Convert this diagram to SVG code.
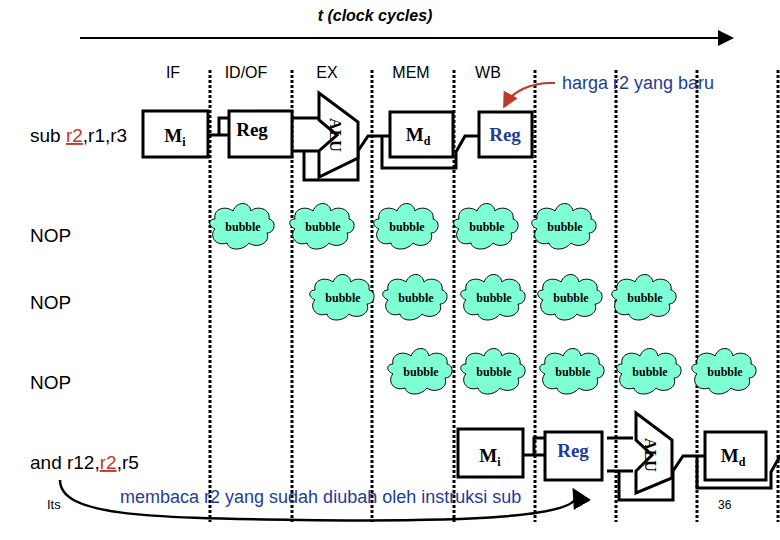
<svg xmlns="http://www.w3.org/2000/svg" width="780" height="540" viewBox="0 0 780 540">
<style>
.s{font-family:"Liberation Sans",Arial,sans-serif}
.b{font-family:"Liberation Serif","Times New Roman",serif;font-weight:bold}
.box{fill:#fff;stroke:#000;stroke-width:3}
.w{fill:none;stroke:#000;stroke-width:3}
.dash{stroke:#000;stroke-width:3;stroke-dasharray:3 2}
.blue{fill:#1f3c99}
.bt{font-family:"Liberation Serif",serif;font-weight:bold;font-size:12px}
</style>
<defs>
<marker id="ah" markerWidth="8" markerHeight="8" refX="6" refY="4" orient="auto"><path d="M0,0L8,4L0,8z" fill="#000"/></marker>
<marker id="rh" markerWidth="8" markerHeight="8" refX="6" refY="4" orient="auto"><path d="M0,0L8,4L0,8z" fill="#c0392b"/></marker>
<path id="cl" d="M-28,-8 C-30,-18 -18,-22 -10,-16 C-6,-26 6,-26 8,-16 C14,-22 28,-18 26,-8 C34,-6 32,6 24,6 C28,16 14,22 6,16 C0,24 -14,24 -16,16 C-28,20 -34,8 -28,2 C-36,-2 -34,-8 -28,-8 Z" fill="#7fffd4" stroke="#000" stroke-width="1"/>
</defs>
<text x="375" y="21" text-anchor="middle" class="s" font-size="16" font-style="italic" font-weight="bold">t (clock cycles)</text>
<line x1="80" y1="38" x2="730" y2="38" stroke="#000" stroke-width="2" marker-end="url(#ah)"/>
<g id="stages" class="s" font-size="16" text-anchor="middle">
<text x="173" y="78">IF</text><text x="246" y="78">ID/OF</text><text x="327" y="78">EX</text><text x="411" y="78">MEM</text><text x="488" y="78">WB</text>
</g>
<g id="gridlines">
<line class="dash" x1="210" y1="70" x2="210" y2="522"/>
<line class="dash" x1="292" y1="70" x2="292" y2="522"/>
<line class="dash" x1="372" y1="70" x2="372" y2="522"/>
<line class="dash" x1="454" y1="70" x2="454" y2="522"/>
<line class="dash" x1="535" y1="70" x2="535" y2="522"/>
<line class="dash" x1="616" y1="70" x2="616" y2="522"/>
<line class="dash" x1="697" y1="70" x2="697" y2="522"/>
<line class="dash" x1="778" y1="70" x2="778" y2="522"/>
</g>
<g id="labels" class="s" font-size="19">
<text x="30" y="142">sub <tspan fill="#c0392b" text-decoration="underline">r2</tspan>,r1,r3</text>
<text x="30" y="242">NOP</text><text x="30" y="309">NOP</text><text x="30" y="389">NOP</text>
<text x="30" y="469">and r12,<tspan fill="#c0392b" text-decoration="underline">r2</tspan>,r5</text>
<text x="47" y="509" font-size="13">Its</text>
</g>
<g id="connectors">
<path class="w" d="M208,135H229M219,135V118H229M292,118H318M292,151H318M304,151V180H358V151L368,136H390M382,136V168H456V152L465,136H479"/>
<path class="w" transform="translate(315,320)" d="M208,135H229M219,135V118H229M292,118H318M292,151H318M304,151V180H358V151L368,136H390M382,136V168H456V152L465,136H470"/>
<path d="M555,83 C530,82 512,92 505,105" fill="none" stroke="#c0392b" stroke-width="2" marker-end="url(#rh)"/>
<path d="M60,480 C60,515 140,518 300,520 C460,522 590,518 575,492" fill="none" stroke="#000" stroke-width="2.5" marker-end="url(#ah)"/>
</g>
<g id="instr1">
<rect class="box" x="143" y="111" width="65" height="46"/><text x="175" y="142" class="b" font-size="19" text-anchor="middle">M<tspan font-size="12" dy="4">i</tspan></text>
<rect class="box" x="229" y="111" width="63" height="46"/><text x="252" y="136" class="b" font-size="19" text-anchor="middle">Reg</text>
<polygon class="box" points="319,93 358,122 358,158 319,177 319,151 337,135 319,120"/><text transform="translate(336,135) rotate(90)" class="b" font-size="16" text-anchor="middle" y="6">ALU</text>
<rect class="box" x="390" y="112" width="63" height="45"/><text x="418" y="141" class="b" font-size="19" text-anchor="middle">M<tspan font-size="12" dy="4">d</tspan></text>
<rect class="box" x="479" y="112" width="53" height="45"/><text x="505" y="141" class="b blue" font-size="19" text-anchor="middle">Reg</text>
</g>
<g id="instr4" transform="translate(315,320)">
<rect class="box" x="143" y="109" width="65" height="48"/><text x="175" y="142" class="b" font-size="19" text-anchor="middle">M<tspan font-size="12" dy="4">i</tspan></text>
<rect class="box" x="230" y="112" width="57" height="48"/><text x="258" y="137" class="b blue" font-size="19" text-anchor="middle">Reg</text>
<polygon class="box" points="321,93 357,120 357,158 321,173 321,151 337,135 321,120"/><text transform="translate(336,135) rotate(90)" class="b" font-size="16" text-anchor="middle" y="6">ALU</text>
<rect class="box" x="390" y="112" width="61" height="48"/><text x="418" y="142" class="b" font-size="19" text-anchor="middle">M<tspan font-size="12" dy="4">d</tspan></text>
</g>
<g id="bubbles" class="bt" text-anchor="middle">
<use href="#cl" x="243" y="227"/><text x="243" y="231">bubble</text>
<use href="#cl" x="323" y="227"/><text x="323" y="231">bubble</text>
<use href="#cl" x="407" y="227"/><text x="407" y="231">bubble</text>
<use href="#cl" x="487" y="227"/><text x="487" y="231">bubble</text>
<use href="#cl" x="565" y="227"/><text x="565" y="231">bubble</text>
<use href="#cl" x="343" y="298"/><text x="343" y="302">bubble</text>
<use href="#cl" x="416" y="298"/><text x="416" y="302">bubble</text>
<use href="#cl" x="494" y="298"/><text x="494" y="302">bubble</text>
<use href="#cl" x="571" y="298"/><text x="571" y="302">bubble</text>
<use href="#cl" x="645" y="298"/><text x="645" y="302">bubble</text>
<use href="#cl" x="421" y="372"/><text x="421" y="376">bubble</text>
<use href="#cl" x="494" y="372"/><text x="494" y="376">bubble</text>
<use href="#cl" x="573" y="372"/><text x="573" y="376">bubble</text>
<use href="#cl" x="650" y="372"/><text x="650" y="376">bubble</text>
<use href="#cl" x="725" y="372"/><text x="725" y="376">bubble</text>
</g>
<text x="562" y="89" class="s blue" font-size="18">harga r2 yang baru</text>
<text x="120" y="503" class="s blue" font-size="18">membaca r2 yang sudah diubah oleh instruksi sub</text>
<text x="718" y="509" class="s" font-size="12">36</text>
</svg>
